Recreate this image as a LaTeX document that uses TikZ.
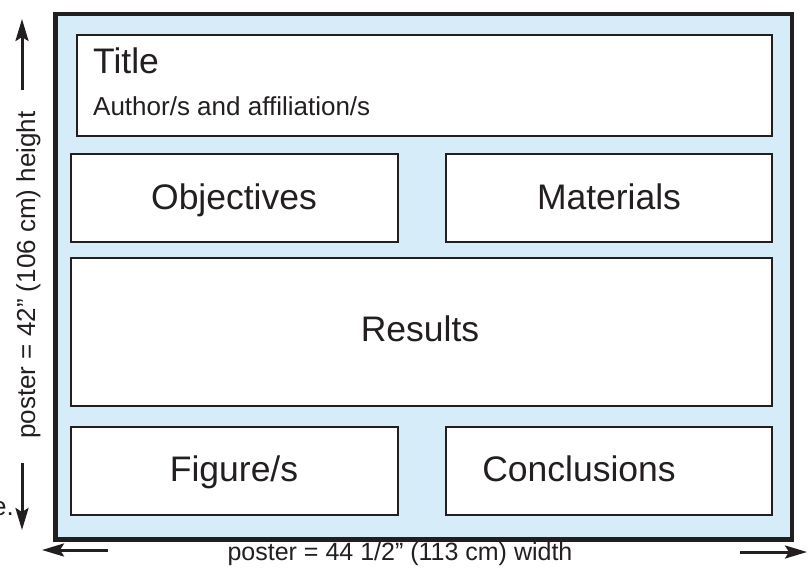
\documentclass[tikz,border=0pt]{standalone}
\usepackage{fontspec}
\setmainfont{Liberation Sans}
\usetikzlibrary{arrows.meta}
\definecolor{ink}{HTML}{231F20}
\definecolor{posterblue}{HTML}{D6ECF9}
\tikzset{
  posterframe/.style={draw=ink, line width=4.5pt, fill=posterblue},
  panelbox/.style={draw=ink, line width=2pt, fill=white},
  bigtext/.style={anchor=base, inner sep=0pt, text=ink, font=\fontsize{35.5}{40}\selectfont},
  smalltext/.style={anchor=base, inner sep=0pt, text=ink, font=\fontsize{26}{30}\selectfont},
  dimarrow/.style={draw=ink, line width=3pt, -{Stealth[length=22pt, width=13pt, inset=4pt]}},
}
\begin{document}
\begin{tikzpicture}[x=1pt, y=-1pt]
\useasboundingbox (0,0) rectangle (810,567);
% poster frame
\draw[posterframe] (55.5,14) rectangle (792,539.5);
% panels
\draw[panelbox] (76.5,34.7) rectangle (772,136);
\draw[panelbox] (71,154) rectangle (397.7,242);
\draw[panelbox] (446,154) rectangle (772,242);
\draw[panelbox] (71,258) rectangle (772,406);
\draw[panelbox] (71,427) rectangle (397.7,514.7);
\draw[panelbox] (446,427) rectangle (772,514.7);
% texts
\node[bigtext, anchor=base west] (title) at (93,74) {Title};
\node[smalltext, anchor=base west] (author) at (93,115) {Author/s and affiliation/s};
\node[bigtext] (obj) at (234,209) {Objectives};
\node[bigtext] (mat) at (609,209) {Materials};
\node[bigtext] (res) at (420,341.5) {Results};
\node[bigtext] (fig) at (234,481.5) {Figure/s};
\node[bigtext] (con) at (579,481.5) {Conclusions};
% dimension labels
\node[smalltext, rotate=90] (hlabel) at (35,275) {poster = 42” (106 cm) height};
\node[smalltext, font=\fontsize{25}{30}\selectfont] (wlabel) at (400,560) {poster = 44 1/2” (113 cm) width};
\node[smalltext, anchor=base east] (frag) at (14,515) {e.};
% dimension arrows
\coordinate (vtopS) at (22,90);
\coordinate (vtopT) at (22,19);
\coordinate (vbotS) at (22,463);
\coordinate (vbotT) at (22,530);
\coordinate (hleftS) at (108,550);
\coordinate (hleftT) at (42,550);
\coordinate (hrightS) at (740,552);
\coordinate (hrightT) at (807,552);
\draw[dimarrow] (vtopS) -- (vtopT);
\draw[dimarrow] (vbotS) -- (vbotT);
\draw[dimarrow] (hleftS) -- (hleftT);
\draw[dimarrow] (hrightS) -- (hrightT);
\end{tikzpicture}
\end{document}
